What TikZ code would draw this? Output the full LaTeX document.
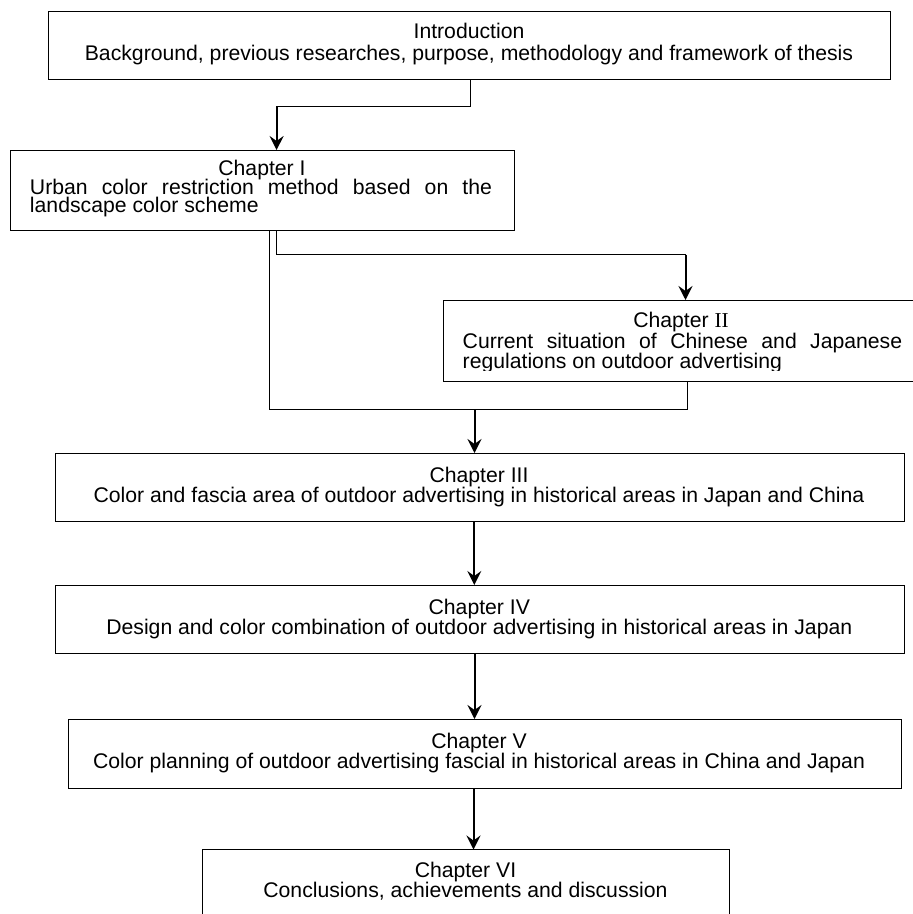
\documentclass[tikz,border=0pt]{standalone}
\usepackage{fontspec}
\setmainfont{Liberation Sans}
\newfontfamily\romanII{Liberation Serif}
\usetikzlibrary{arrows.meta}
\begin{document}
\begin{tikzpicture}[x=1pt,y=-1pt,
  box/.style={draw=black, line width=1pt, inner sep=0pt, outer sep=0pt, anchor=north west},
  txt/.style={inner sep=0pt, outer sep=0pt, font=\fontsize{21.2}{21}\selectfont, align=center, anchor=base},
  thinline/.style={line width=1pt},
  arr/.style={line width=2pt, -{Stealth[length=14pt,width=14pt,inset=5pt]}}]
\useasboundingbox (0,0) rectangle (913,914);
\fill[white] (0,0) rectangle (913,914);
\clip (0,0) rectangle (913,914);

% boxes
\node[box, minimum width=842pt, minimum height=68pt] (intro) at (48,11) {};
\node[box, minimum width=503.5pt, minimum height=80pt] (c1) at (10.5,150) {};
\node[box, minimum width=478pt, minimum height=81pt] (c2) at (443,300) {};
\node[box, minimum width=848.7pt, minimum height=68pt] (c3) at (55.3,453) {};
\node[box, minimum width=849pt, minimum height=68pt] (c4) at (55,585) {};
\node[box, minimum width=833pt, minimum height=69pt] (c5) at (68.7,719) {};
\node[box, minimum width=526.3pt, minimum height=100pt] (c6) at (202.7,849.5) {};

% texts (anchor base = baseline of the last line)
\node[txt, font=\fontsize{21.2}{22}\selectfont] (introT) at (469,60) {Introduction\\Background, previous researches, purpose, methodology and framework of thesis};
\node[txt] (c1t) at (262,175) {Chapter I};
\node[txt, anchor=base west, align=left, font=\fontsize{21.2}{18.5}\selectfont] (c1b) at (30,212.5)
  {\makebox[462pt][s]{Urban color restriction method based on the}\\landscape color scheme};
\node[txt] (c2t) at (681,327) {Chapter {\romanII II}};
\begin{scope}
\clip (443,300) rectangle (913,370.5);
\node[txt, anchor=base west, align=left, font=\fontsize{21.2}{20}\selectfont] (c2b) at (462.7,368)
  {\makebox[439.5pt][s]{Current situation of Chinese and Japanese}\\regulations on outdoor advertising};
\end{scope}
\node[txt, font=\fontsize{21.2}{20.5}\selectfont] (c3t) at (479,502.5) {Chapter III\\Color and fascia area of outdoor advertising in historical areas in Japan and China};
\node[txt, font=\fontsize{21.2}{20.5}\selectfont] (c4t) at (479.3,634.5) {Chapter IV\\Design and color combination of outdoor advertising in historical areas in Japan};
\node[txt, font=\fontsize{21.2}{20.5}\selectfont] (c5t) at (479,768.5) {Chapter V\\Color planning of outdoor advertising fascial in historical areas in China and Japan};
\node[txt, font=\fontsize{21.2}{20}\selectfont] (c6t) at (465.5,897) {Chapter VI\\Conclusions, achievements and discussion};

% connectors
\coordinate (j1) at (470.7,106);
\coordinate (j2) at (276.6,106);
\draw[thinline] (j1 |- intro.south) -- (j1) -- (j2);
\draw[arr] (j2) -- (j2 |- c1.north);

\coordinate (k1) at (276.6,254.5);
\coordinate (k2) at (685.5,254.5);
\draw[thinline] (k1 |- c1.south) -- (k1) -- (k2);
\draw[arr] (k2) -- (k2 |- c2.north);

\coordinate (m1) at (269.8,409);
\coordinate (m2) at (687,409);
\coordinate (m3) at (474.5,409);
\draw[thinline] (m1 |- c1.south) -- (m1) -- (m2) -- (m2 |- c2.south);
\draw[arr] (m3) -- (m3 |- c3.north);

\coordinate (a34) at (474.3,0);
\coordinate (a45) at (474.5,0);
\coordinate (a56) at (473.5,0);
\draw[arr] (a34 |- c3.south) -- (a34 |- c4.north);
\draw[arr] (a45 |- c4.south) -- (a45 |- c5.north);
\draw[arr] (a56 |- c5.south) -- (a56 |- c6.north);
\end{tikzpicture}
\end{document}
